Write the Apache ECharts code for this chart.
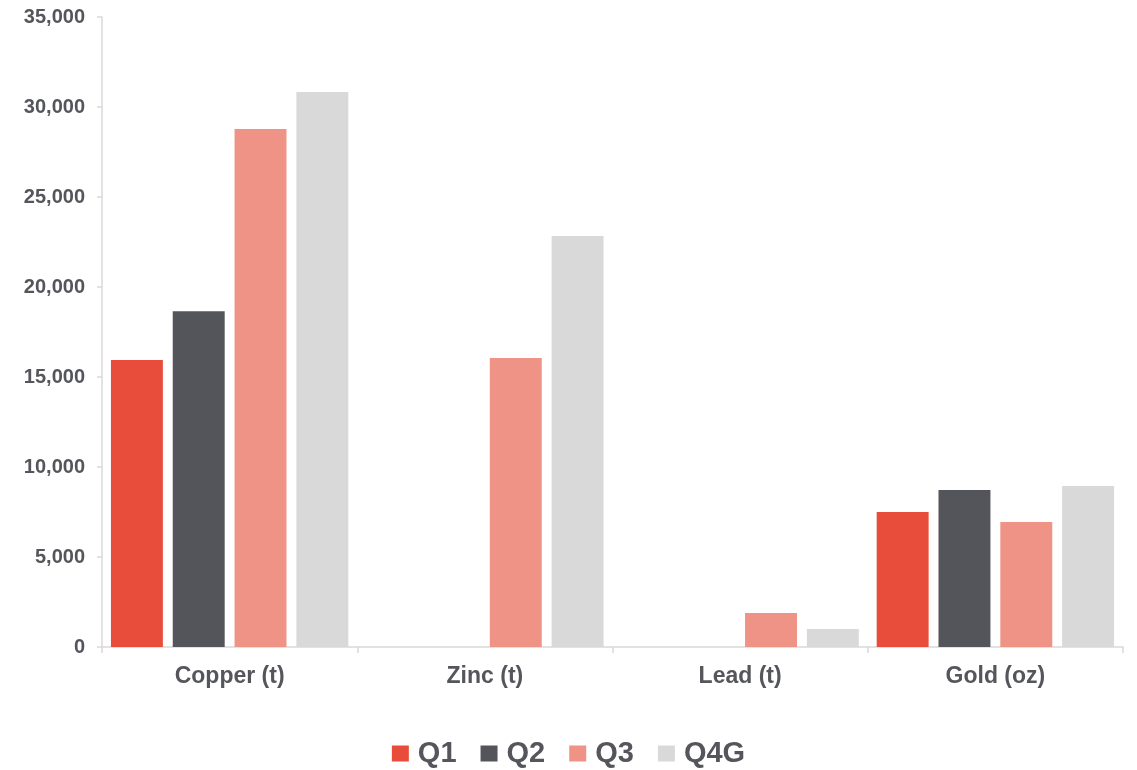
<!DOCTYPE html>
<html>
<head>
<meta charset="utf-8">
<script src="https://cdn.jsdelivr.net/npm/echarts@6/dist/echarts.min.js"></script>
<style>
  html, body { margin: 0; padding: 0; background: #fff; }
  #chart { width: 1137px; height: 770px; }
</style>
</head>
<body>
<div id="chart"></div>
<script>
const categories = ['Copper (t)', 'Zinc (t)', 'Lead (t)', 'Gold (oz)']
const q1 = [15950, 0, 0, 7500]
const q2 = [18650, 0, 0, 8720]
const q3 = [28780, 16050, 1890, 6940]
const q4g = [30830, 22830, 1000, 8940]
const seriesNames = ['Q1', 'Q2', 'Q3', 'Q4G']
const colors = ['#E84C3A', '#54555A', '#EE9385', '#D9D9D9']

const chart = echarts.init(document.getElementById('chart'))
const textColor = '#55565B'
const font = 'Liberation Sans, Arial, sans-serif'

const bar = (name, data, i) => ({
  name,
  type: 'bar',
  data,
  barGap: '19%',
  barCategoryGap: '7%',
  itemStyle: { color: colors[i] }
})

chart.setOption({
  animation: false,
  grid: { left: 102, right: 14, top: 17, bottom: 123 },
  legend: {
    bottom: -3,
    left: 'center',
    itemWidth: 17,
    itemHeight: 16,
    itemGap: 24,
    icon: 'rect',
    textStyle: { fontSize: 29, fontWeight: 'bold', color: textColor, fontFamily: font, padding: [0, 0, 0, 4] }
  },
  xAxis: {
    type: 'category',
    data: categories,
    axisLine: { lineStyle: { color: '#D9D9D9', width: 1.5 } },
    axisTick: { show: true, length: 6, lineStyle: { color: '#D9D9D9', width: 1.5 } },
    axisLabel: { fontSize: 23, fontWeight: 'bold', color: textColor, fontFamily: font, margin: 18 }
  },
  yAxis: {
    type: 'value',
    min: 0,
    max: 35000,
    interval: 5000,
    axisLine: { show: true, lineStyle: { color: '#D9D9D9', width: 1.5 } },
    axisTick: { show: true, length: 5, lineStyle: { color: '#D9D9D9', width: 1.5 } },
    splitLine: { show: false },
    axisLabel: {
      fontSize: 20,
      fontWeight: 'bold',
      color: textColor,
      fontFamily: font,
      margin: 17,
      formatter: v => v.toLocaleString('en-US')
    }
  },
  series: [bar('Q1', q1, 0), bar('Q2', q2, 1), bar('Q3', q3, 2), bar('Q4G', q4g, 3)]
})
</script>
</body>
</html>
